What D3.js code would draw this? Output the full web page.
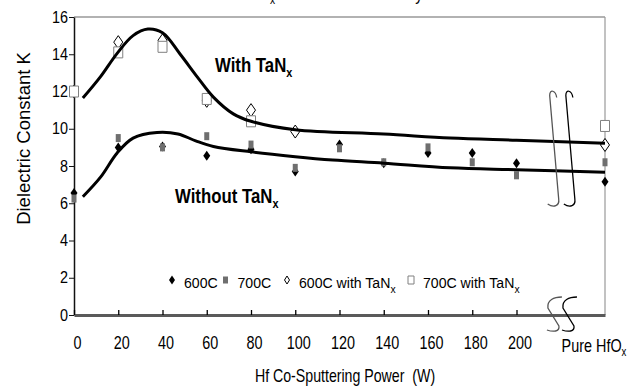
<!DOCTYPE html>
<html>
<head>
<meta charset="utf-8">
<script src="https://cdn.jsdelivr.net/npm/d3@7"></script>
<style>
body{margin:0;background:#fff}
svg{display:block}
text{font-family:"Liberation Sans",Arial,sans-serif;fill:#000}
</style>
</head>
<body>
<div id="chart"></div>
<script>
// values
var powers = [0, 20, 40, 60, 80, 100, 120, 140, 160, 180, 200];
var purePos = 240;               // the "Pure HfOx" column sits here on the power axis
var xPos = powers.concat([purePos]);

var k600    = [6.55, 9.0, 9.05, 8.55, 8.9, 7.7, 9.15, 8.15, 8.7, 8.7, 8.15, 7.15];
var k700    = [6.25, 9.5, 9.0, 9.6, 9.15, 7.9, 8.95, 8.2, 9.0, 8.2, 7.5, 8.2];
var k600TaN = [12.0, 14.65, 14.75, 11.5, 11.0, 9.85, null, null, null, null, null, 9.13];
var k700TaN = [12.0, 14.1, 14.4, 11.6, 10.4, null, null, null, null, null, null, 10.15];

var yTicks = [0, 2, 4, 6, 8, 10, 12, 14, 16];

// hand drawn trend curves [power, K]
var withFit = [[4, 11.65], [12, 12.8], [19.5, 14.05], [26.7, 15.0], [33.4, 15.35], [40, 15.15],
  [48, 14.0], [55.6, 12.8], [63, 11.7], [72, 10.8], [80, 10.4], [100, 9.95], [140, 9.72],
  [170, 9.5], [200, 9.38], [240, 9.22]];
var withoutFit = [[4, 6.35], [12, 7.4], [19.5, 8.7], [26.7, 9.5], [37.5, 9.8], [47, 9.72],
  [55, 9.35], [63, 9.05], [80, 8.76], [100, 8.5], [117, 8.32], [140, 8.15], [170, 7.9],
  [200, 7.8], [240, 7.67]];

var seriesNames = ["600C", "700C", "600C with TaN", "700C with TaN"];
var seriesValues = [k600, k700, k600TaN, k700TaN];

var width = 644, height = 387;
var svg = d3.select("#chart").append("svg").attr("width", width).attr("height", height);

var x = d3.scaleLinear().domain([0, 240]).range([74, 605]);
var y = d3.scaleLinear().domain([0, 16]).range([315, 17]);

function diamond(w, h) {
  return "M0," + (-h / 2) + "L" + (w / 2) + ",0L0," + (h / 2) + "L" + (-w / 2) + ",0Z";
}
function rect(w, h) {
  return "M" + (-w / 2) + "," + (-h / 2) + "h" + w + "v" + h + "h" + (-w) + "Z";
}
// marker look for each series: plot size, legend size
var markers = [
  {shape: diamond, w: 7, h: 10, lw: 6, lh: 9, fill: "#000", stroke: "none"},
  {shape: rect, w: 5, h: 8, lw: 5, lh: 7, fill: "#6f6f6f", stroke: "none"},
  {shape: diamond, w: 9, h: 13, lw: 5, lh: 8, fill: "#fff", stroke: "#000"},
  {shape: rect, w: 9, h: 11, lw: 6, lh: 8, fill: "#fff", stroke: "#808080"}
];

// squeezed text like the scanned figure
function txt(g, str, tx, ty, size, sx, anchor, weight) {
  return g.append("text")
    .attr("transform", "translate(" + tx + "," + ty + ") scale(" + sx + ",1)")
    .attr("text-anchor", anchor || "start")
    .style("font-size", size + "px")
    .style("font-weight", weight || "normal")
    .style("white-space", "pre")
    .text(str);
}
function sub(t, str, size, dy) {
  t.append("tspan").attr("dy", dy).style("font-size", size + "px").text(str);
}

// cut-off title at the top edge
var tt = txt(svg, "HfTaN", 269, -4, 17, 0.85, "end");
txt(svg, "x", 270, 4, 12, 0.85);
txt(svg, "Film Density", 423, 0, 18, 0.85, "end");

// frame
svg.append("line").attr("x1", x(0)).attr("x2", x(240)).attr("y1", y(16)).attr("y2", y(16))
  .attr("stroke", "#999").attr("stroke-width", 1.5);
svg.append("line").attr("x1", x(240)).attr("x2", x(240)).attr("y1", y(16)).attr("y2", y(0))
  .attr("stroke", "#999").attr("stroke-width", 1.2);

// y axis
var ya = svg.append("g").attr("transform", "translate(" + x(0) + ",0)")
  .call(d3.axisLeft(y).tickValues(yTicks).tickSizeInner(5).tickSizeOuter(0).tickPadding(2));
ya.select(".domain").attr("stroke", "#111").attr("stroke-width", 1.5);
ya.selectAll(".tick line").attr("stroke", "#111");
ya.selectAll("text").attr("x", null).attr("font-family", null).attr("font-size", null)
  .attr("transform", "translate(-6,0) scale(0.9,1)").style("font-size", "16px");

// x axis
var xa = svg.append("g").attr("transform", "translate(0," + y(0) + ")")
  .call(d3.axisBottom(x).tickValues(powers).tickSizeInner(-5).tickSizeOuter(0).tickPadding(21));
xa.select(".domain").attr("stroke", "#5a5a5a").attr("stroke-width", 3);
xa.selectAll(".tick line").attr("stroke", "#000").attr("stroke-width", 1.3);
xa.selectAll("text").attr("y", null).attr("font-family", null).attr("font-size", null)
  .attr("dy", null)
  .attr("transform", "translate(3,34) scale(0.8,1)").style("font-size", "18px");

var pure = txt(svg, "Pure HfO", 594, 352, 18, 0.8, "middle");
sub(pure, "x", 12, 4);

// axis titles
svg.append("text").attr("transform", "translate(30,138.5) rotate(-90)")
  .attr("text-anchor", "middle").style("font-size", "18.5px").text("Dielectric Constant K");
txt(svg, "Hf Co-Sputtering Power  (W)", 345, 382, 17.5, 0.81, "middle");

// data markers
seriesValues.forEach(function (vals, i) {
  var m = markers[i];
  var pts = vals.map(function (v, j) { return {p: xPos[j], k: v}; })
    .filter(function (d) { return d.k != null; });
  svg.append("g").selectAll("path").data(pts).join("path")
    .attr("transform", function (d) { return "translate(" + x(d.p) + "," + y(d.k) + ")"; })
    .attr("d", m.shape(m.w, m.h))
    .attr("fill", m.fill).attr("stroke", m.stroke).attr("stroke-width", 1);
});

// trend curves
var line = d3.line().x(function (d) { return x(d[0]); }).y(function (d) { return y(d[1]); })
  .curve(d3.curveCatmullRom.alpha(0.5));
[withFit, withoutFit].forEach(function (f) {
  svg.append("path").datum(f).attr("d", line).attr("fill", "none")
    .attr("stroke", "#000").attr("stroke-width", 3);
});

// curve labels
var w1 = txt(svg, "With TaN", 215, 72, 20, 0.84, "start", "bold");
sub(w1, "x", 13, 5);
var w2 = txt(svg, "Without TaN", 175, 203, 20, 0.84, "start", "bold");
sub(w2, "x", 13, 5);

// axis break marks
var brk = svg.append("g").attr("fill", "none").attr("stroke-width", 1.3);
[[215, "#555"], [222.3, "#000"]].forEach(function (b) {
  var x0 = x(b[0]), yT = y(12.0), yB = y(5.8);
  brk.append("path").attr("stroke", b[1])
    .attr("d", "M" + (x0 + 7) + "," + (yT + 6) + "C" + (x0 + 6) + "," + (yT - 1) + " " + x0 + "," + (yT - 3) +
      " " + x0 + "," + (yT + 4) + "L" + (x0 + 9) + "," + (yB - 8) + "C" + (x0 + 10) + "," + (yB - 1) +
      " " + (x0 + 4) + "," + (yB + 1) + " " + (x0 - 2) + "," + (yB - 3));
});
[[214.2, "#555"], [221, "#000"]].forEach(function (b) {
  var x0 = x(b[0]), yT = y(0) - 18;
  brk.append("path").attr("stroke", b[1])
    .attr("d", "M" + (x0 + 14) + "," + yT + "C" + (x0 + 6) + "," + yT + " " + (x0 - 1) + "," + (yT + 3) +
      " " + x0 + "," + (yT + 11) + "L" + (x0 + 11) + "," + (yT + 29) + "C" + (x0 + 12) + "," + (yT + 35) +
      " " + (x0 + 5) + "," + (yT + 35) + " " + (x0 - 1) + "," + (yT + 33));
});

// legend
var legX = [172, 225.5, 287, 411];
var legY = 280;
seriesNames.forEach(function (name, i) {
  var m = markers[i];
  svg.append("path").attr("transform", "translate(" + legX[i] + "," + legY + ")")
    .attr("d", m.shape(m.lw, m.lh)).attr("fill", m.fill).attr("stroke", m.stroke).attr("stroke-width", 1);
  var t = txt(svg, name, legX[i] + 12, 288, 15, 0.94);
  if (name.indexOf("TaN") >= 0) sub(t, "x", 11, 5);
});
</script>
</body>
</html>
